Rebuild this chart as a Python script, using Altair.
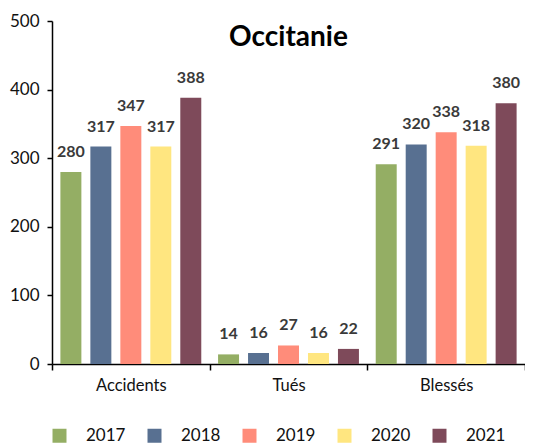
import altair as alt
import pandas as pd

categories = ["Accidents", "Tués", "Blessés"]
years = ["2017", "2018", "2019", "2020", "2021"]
values = {
    "2017": [280, 14, 291],
    "2018": [317, 16, 320],
    "2019": [347, 27, 338],
    "2020": [317, 16, 318],
    "2021": [388, 22, 380],
}
colors = ["#94AE64", "#587091", "#FF8C7A", "#FFE680", "#7E4A5A"]

rows = []
for y in years:
    for c, v in zip(categories, values[y]):
        rows.append({"cat": c, "year": y, "val": v})
df = pd.DataFrame(rows)

FONT = "Lato"

base = alt.Chart(df).encode(
    x=alt.X("cat:N", sort=categories, title=None,
            scale=alt.Scale(paddingInner=0, paddingOuter=0),
            axis=alt.Axis(labelAngle=0, labelFontSize=16.5, labelColor="#111",
                          labelFont=FONT, domainColor="#000", domainWidth=1.5,
                          tickColor="#000", tickWidth=1.5, tickSize=6, tickBand="extent",
                          labelPadding=7)),
    xOffset=alt.XOffset("year:N", sort=years,
                        scale=alt.Scale(paddingInner=0.3, paddingOuter=0.28)),
)

bars = base.mark_bar().encode(
    y=alt.Y("val:Q", title=None,
            scale=alt.Scale(domain=[0, 500], nice=False),
            axis=alt.Axis(values=[0, 100, 200, 300, 400, 500], grid=False,
                          labelFontSize=17, labelColor="#111", labelFont=FONT,
                          domainColor="#000", domainWidth=1.5, tickColor="#000",
                          tickWidth=1.5, tickSize=5, labelPadding=8)),
    color=alt.Color("year:N", sort=years,
                    scale=alt.Scale(domain=years, range=colors),
                    legend=alt.Legend(title=None, orient="none", direction="horizontal",
                                      legendX=-1, legendY=406, symbolType="square",
                                      symbolSize=196, symbolStrokeWidth=0,
                                      labelFontSize=17, labelFont=FONT, labelColor="#111",
                                      labelOffset=18, columnPadding=20, padding=0,
                                      symbolOpacity=1)),
)

labels = base.mark_text(baseline="alphabetic", dy=-15, fontSize=16, fontWeight="bold",
                        font=FONT, color="#3a3a3a").encode(
    y=alt.Y("val:Q"),
    text=alt.Text("val:Q"),
)

chart = alt.layer(bars, labels).properties(
    width=473, height=343,
    title=alt.TitleParams("Occitanie", fontSize=28, fontWeight="bold", font=FONT,
                          color="#000", anchor="middle", dy=44),
    padding={"left": 44, "top": 13, "right": 0, "bottom": 81},
    autosize=alt.AutoSizeParams(type="none"),
).configure_view(stroke=None)

chart.save("out.html", embed_options={"renderer": "svg", "actions": False})
